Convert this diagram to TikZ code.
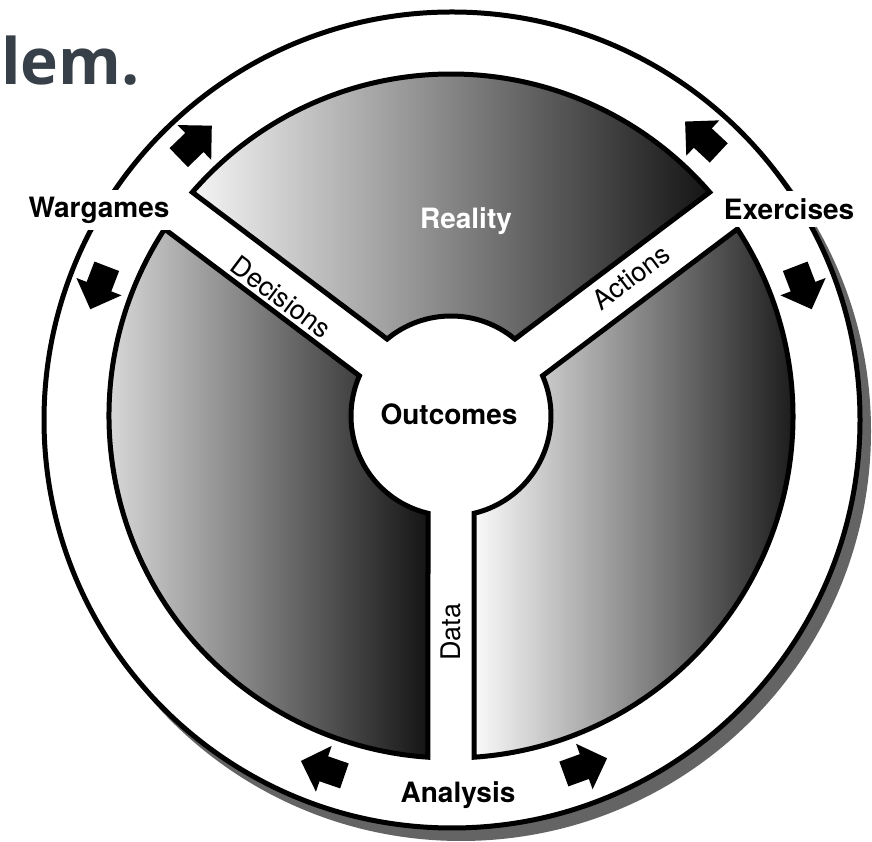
\documentclass[tikz,border=0pt]{standalone}
\usepackage{fontspec}
\setmainfont{TeX Gyre Heros}
\newfontfamily\titlefont{Open Sans}
\usetikzlibrary{shapes.arrows,calc}

\definecolor{titlegray}{RGB}{55,64,72}
\definecolor{shadowgray}{RGB}{100,100,100}

\begin{document}
\begin{tikzpicture}
[   x=1pt, y=1pt,
    seg/.style={draw=black,line width=5pt,line join=miter,left color=#1,right color=black!92},
    lab/.style={font=\fontsize{28}{30}\selectfont\bfseries},
    chan/.style={font=\fontsize{27}{30}\selectfont},
]
\tikzset{blockarrow/.style={single arrow,fill=black,inner xsep=0pt,inner ysep=13pt,minimum height=46pt,single arrow head extend=11pt}}
\useasboundingbox (0,0) rectangle (872,842);
\coordinate (O) at (452,422);
\coordinate (C) at (451,426);

\node[anchor=base west,text=titlegray,inner sep=0pt,font=\titlefont\bfseries\fontsize{64}{70}\selectfont] (title) at (1,757) {lem.};

% outer ring and its shadow
\fill[shadowgray] ($(O)+(9,-11)$) circle[radius=410pt];
\draw[line width=5pt,fill=white] (O) circle[radius=408pt];

% the three sectors
\begin{scope}[shift={(C)}]
\path[seg=gray!8] (40.86:342) arc[start angle=40.86,end angle=139.14,radius=342pt]
    -- (129.7:100) arc[start angle=129.7,end angle=50.3,radius=100pt] -- cycle;
\path[seg=gray!8] (146.86:342) arc[start angle=146.86,end angle=266.14,radius=342pt]
    -- (256.7:100) arc[start angle=256.7,end angle=156.3,radius=100pt] -- cycle;
\path[seg=gray!4] (273.86:342) arc[start angle=273.86,end angle=393.14,radius=342pt]
    -- (383.7:100) arc[start angle=383.7,end angle=283.3,radius=100pt] -- cycle;
\end{scope}

% arrows in the ring
\foreach \ang/\dir [count=\i] in {134/44,47/137,21/-69,159/249,251/161,290/20}
{
    \node[blockarrow,rotate=\dir] (arr-\i) at ($(C)+(\ang:375)$) {};
}

\node[lab,fill=white,inner xsep=3pt,inner ysep=7pt] (wargames) at (99,632) {Wargames};
\node[lab,fill=white,inner xsep=3pt,inner ysep=7pt] (exercises) at (789,633) {Exercises};
\node[lab,text=white] (reality) at (466,621) {Reality};
\node[lab] (outcomes) at (449,428) {Outcomes};
\node[lab] (analysis) at (458,47) {Analysis};
\node[chan,rotate=-37] (decisions) at (281,545) {Decisions};
\node[chan,rotate=37] (actions) at (631,565) {Actions};
\node[chan,rotate=90] (data) at (451,210) {Data};
\end{tikzpicture}
\end{document}
